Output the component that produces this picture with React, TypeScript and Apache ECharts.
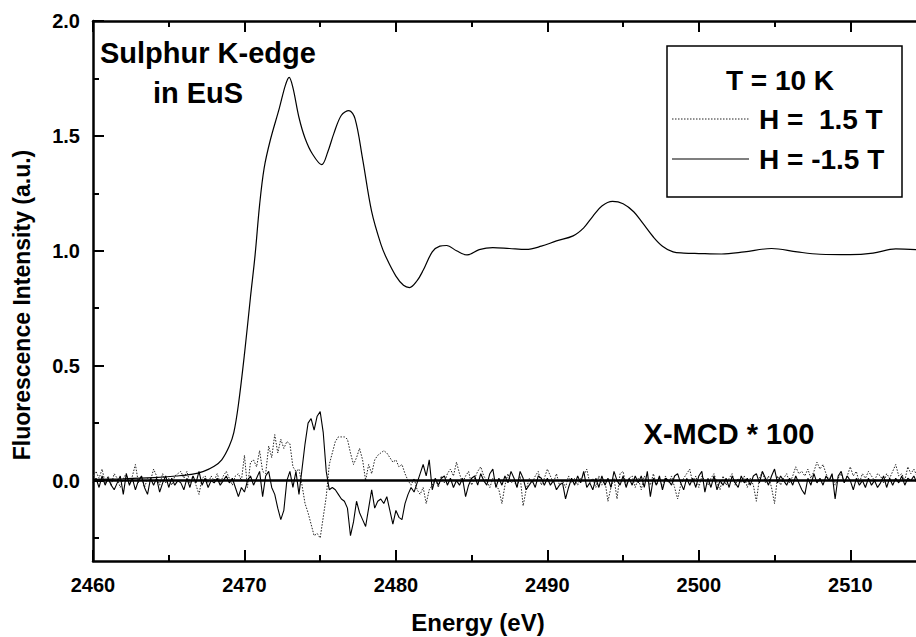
import React, { useEffect, useRef } from "react";
import * as echarts from "echarts";

// ---------- data ----------
const xTickLabels = [2460, 2470, 2480, 2490, 2500, 2510];
const yTickLabels = [0.0, 0.5, 1.0, 1.5, 2.0];
const yMinorTicks = [-0.25, 0.25, 0.75, 1.25, 1.75];

// Fluorescence spectrum (smooth curve)
const mainEnergy = [
  2460.0, 2462.0, 2464.0, 2465.5, 2466.5, 2467.3, 2468.0, 2468.5, 2469.0, 2469.3,
  2469.6, 2470.0, 2470.4, 2470.7, 2471.0, 2471.3, 2471.7, 2472.3, 2472.7, 2472.95,
  2473.2, 2473.6, 2474.0, 2474.5, 2475.1, 2475.5, 2475.9, 2476.4, 2476.9, 2477.3,
  2477.8, 2478.4, 2479.0, 2479.4, 2480.0, 2480.5, 2480.9, 2481.4, 2481.8, 2482.4,
  2482.9, 2483.35, 2484.0, 2484.7, 2485.5, 2486.4, 2487.5, 2488.6, 2489.6, 2490.6,
  2491.7, 2492.4, 2493.0, 2493.6, 2494.3, 2495.0, 2495.7, 2496.3, 2497.0, 2497.6,
  2498.3, 2499.0, 2500.0, 2501.5, 2503.0, 2504.8, 2506.5, 2508.0, 2510.0, 2511.5,
  2513.0, 2514.5,
];
const mainIntensity = [
  0.005, 0.008, 0.013, 0.02, 0.027, 0.04, 0.062, 0.09, 0.15, 0.21,
  0.33, 0.55, 0.8, 0.98, 1.2, 1.36, 1.48, 1.62, 1.72, 1.755,
  1.71, 1.58, 1.49, 1.42, 1.375, 1.43, 1.51, 1.59, 1.61, 1.575,
  1.4, 1.17, 1.03, 0.965, 0.89, 0.85, 0.84, 0.87, 0.915, 0.995,
  1.02, 1.023, 1.0, 0.982, 1.005, 1.014, 1.01, 1.006, 1.02, 1.043,
  1.065, 1.1, 1.15, 1.195, 1.215, 1.205, 1.17, 1.12, 1.06, 1.02,
  0.995, 0.99, 0.988, 0.986, 0.995, 1.01, 0.995, 0.985, 0.983, 0.99,
  1.008, 1.005,
];

// X-MCD * 100, sampled every 0.2 eV from 2460.0 eV
const mcdStart = 2460.0;
const mcdStep = 0.2;
const mcdPlus = [
  .02, .04, .01, .05, -.01, .02, -.02, .03, .01, -.03,
  .01, .03, -.02, .02, .07, -.01, .02, -.03, .01, .00,
  .05, .02, -.02, .03, -.01, .01, -.02, .02, .03, .04,
  .01, .04, -.01, .02, -.02, -.06, .01, .02, -.01, .02,
  .00, .03, -.01, .02, .04, .01, -.02, .02, .03, .00,
  .11, -.03, .08, .09, .06, .13, .04, .03, .15, .10,
  .20, .12, .18, .14, .17, .16, .06, .04, .05, -.02,
  -.10, -.14, -.19, -.24, -.23, -.25, -.16, -.07, .07, .12,
  .17, .19, .19, .19, .18, .12, .07, .10, .14, .09,
  .00, .07, .03, .09, .11, .12, .13, .12, .10, .08,
  .09, .06, .07, .03, .00, -.02, .01, -.04, -.06, -.03,
  -.10, -.04, -.02, .01, -.03, .02, -.01, .03, .05, .02,
  .08, .03, -.01, .02, .04, -.02, .01, .04, .06, .02,
  .00, -.03, .01, -.02, -.04, -.10, -.02, .03, -.01, .00,
  -.03, .02, -.11, -.04, .01, -.01, .02, .04, -.02, .01,
  .05, .02, -.01, .03, -.02, .00, -.03, .02, -.01, .01,
  -.02, .01, .02, .05, -.01, .01, -.03, .02, -.02, .00,
  -.09, -.03, .01, -.08, .03, .04, -.02, .01, .02, -.03,
  .01, -.04, .02, .00, -.02, .03, -.02, .01, -.03, .02,
  -.01, .02, -.03, -.08, -.02, .01, .03, .05, -.01, .02,
  -.03, .02, .00, -.02, .01, .03, -.01, -.04, .02, -.02,
  .01, .03, -.02, .01, -.01, .02, -.03, .01, -.02, -.09,
  .01, .04, -.01, .02, -.03, -.10, .02, -.02, .01, .03,
  -.01, .02, .06, .03, .04, .02, .05, .01, .04, .08,
  .05, .07, .03, .00, .02, -.02, .01, .03, -.01, .02,
  .06, .02, .04, -.01, .03, .01, .04, .02, .00, .03,
  .02, -.01, .03, .01, .04, .07, .02, .03, .00, .06,
  .03, .05, .02,
];
const mcdMinus = [
  -.01, .01, -.03, .02, -.02, .01, -.02, -.04, -.01, .02,
  -.06, .03, -.02, .01, -.04, .00, .02, -.03, -.06, .01,
  -.02, .01, -.05, -.01, .02, -.03, .01, -.02, .00, -.01,
  -.04, .01, -.03, .02, -.01, .04, -.02, .01, -.03, .00,
  -.01, .01, -.02, .00, .02, -.01, .01, -.03, -.07, -.03,
  -.05, .00, .02, -.02, .01, .04, -.07, .02, .04, -.03,
  -.06, -.12, -.17, -.13, .00, .04, -.03, .04, -.06, .05,
  .16, .25, .27, .22, .28, .30, .21, .04, -.04, -.03,
  -.04, -.06, -.08, -.09, -.12, -.24, -.18, -.09, -.14, -.17,
  -.20, -.12, -.04, -.12, -.09, -.08, -.10, -.07, -.13, -.19,
  -.13, -.16, -.17, -.10, -.06, -.03, -.05, -.01, .03, .07,
  .02, .09, -.04, .01, -.02, .01, .02, -.02, .01, -.03,
  .00, -.02, .01, -.07, -.02, .01, .02, -.02, .03, .00,
  -.02, .03, .05, -.03, .01, -.02, .02, -.01, .04, .01,
  -.03, .04, .01, -.04, -.02, .00, -.03, .02, .01, -.02,
  .01, -.02, .00, -.04, -.02, -.01, -.08, -.03, .01, -.02,
  .02, -.01, .04, -.03, -.01, -.04, .01, -.03, .02, -.02,
  .01, -.03, .04, .00, -.02, .02, -.03, .01, -.02, .02,
  -.01, .02, -.03, .04, -.07, .01, -.02, .02, -.04, .01,
  .00, -.02, .02, .03, -.01, -.04, .01, -.02, .01, -.03,
  .02, .04, -.05, .01, -.03, .02, -.04, .00, -.02, .01,
  -.03, .02, -.01, -.03, .02, -.01, .01, -.02, .02, .03,
  -.01, .04, .01, -.02, .02, .05, -.01, .02, .00, -.02,
  .01, -.02, .02, -.01, -.04, -.06, .01, -.02, .03, -.01,
  .01, -.02, .02, .00, .03, -.08, .02, .04, -.01, .02,
  .00, -.04, .01, -.02, .00, -.03, .01, -.02, .00, -.03,
  -.01, .02, -.03, .01, -.02, .01, -.01, .02, -.02, .01,
  .00, .02, -.01,
];

const FONT = "'Liberation Sans', Arial, Helvetica, sans-serif";

export default function App() {
  const ref = useRef<HTMLDivElement>(null);

  useEffect(() => {
    if (!ref.current) return;
    const chart = echarts.init(ref.current, undefined, { renderer: "svg" });

    const mainData = mainEnergy.map((e, i) => [e, mainIntensity[i]]);
    const plusData = mcdPlus.map((v, i) => [+(mcdStart + i * mcdStep).toFixed(2), v]);
    const minusData = mcdMinus.map((v, i) => [+(mcdStart + i * mcdStep).toFixed(2), v]);

    const axisLine = { show: true, onZero: false, lineStyle: { color: "#000", width: 2.5 } };

    chart.setOption({
      animation: false,
      backgroundColor: "#fff",
      grid: {
        left: 93,
        top: 21,
        width: 833,
        height: 540,
        containLabel: false,
        outerBoundsMode: "none",
      },
      xAxis: [
        {
          type: "value",
          min: 2460,
          max: 2515,
          interval: 10,
          position: "bottom",
          axisLine,
          axisTick: { show: true, inside: true, length: 11, lineStyle: { color: "#000", width: 2 } },
          minorTick: { show: true, splitNumber: 2, length: 6, lineStyle: { color: "#000", width: 2 } },
          splitLine: { show: false },
          axisLabel: {
            color: "#000",
            fontFamily: FONT,
            fontWeight: "bold",
            fontSize: 20,
            margin: 14,
            formatter: (v: number) => (xTickLabels.includes(v) ? String(v) : ""),
          },
        },
        {
          type: "value",
          min: 2460,
          max: 2515,
          interval: 10,
          position: "top",
          axisLine,
          axisTick: { show: true, inside: true, length: 11, lineStyle: { color: "#000", width: 2 } },
          minorTick: { show: true, splitNumber: 2, length: 6, lineStyle: { color: "#000", width: 2 } },
          splitLine: { show: false },
          axisLabel: { show: false },
        },
      ],
      yAxis: [
        {
          type: "value",
          min: -0.35,
          max: 2.0,
          position: "left",
          axisLine,
          axisTick: {
            show: true,
            inside: true,
            length: 11,
            customValues: yTickLabels,
            lineStyle: { color: "#000", width: 2 },
          },
          splitLine: { show: false },
          axisLabel: {
            color: "#000",
            fontFamily: FONT,
            fontWeight: "bold",
            fontSize: 20,
            margin: 13,
            customValues: yTickLabels,
            formatter: (v: number) => v.toFixed(1),
          },
        },
        {
          type: "value",
          min: -0.35,
          max: 2.0,
          position: "left",
          offset: 0,
          axisLine: { show: false, onZero: false },
          axisTick: {
            show: true,
            inside: true,
            length: 6,
            customValues: yMinorTicks,
            lineStyle: { color: "#000", width: 2 },
          },
          splitLine: { show: false },
          axisLabel: { show: false },
        },
      ],
      series: [
        {
          name: "spectrum",
          type: "line",
          data: mainData,
          smooth: 0.35,
          symbol: "none",
          lineStyle: { color: "#000", width: 1.2 },
          z: 3,
        },
        {
          name: "H =  1.5 T",
          type: "line",
          data: plusData,
          symbol: "none",
          lineStyle: { color: "#222", width: 1, type: [1.5, 1.5] },
          z: 2,
        },
        {
          name: "H = -1.5 T",
          type: "line",
          data: minusData,
          symbol: "none",
          lineStyle: { color: "#000", width: 1.1 },
          z: 2,
        },
        {
          name: "zero",
          type: "line",
          data: [
            [2460, 0],
            [2515, 0],
          ],
          symbol: "none",
          lineStyle: { color: "#000", width: 2.5 },
          z: 4,
        },
      ],
      graphic: [
        {
          type: "text",
          x: 478,
          y: 622,
          style: {
            text: "Energy (eV)",
            fill: "#000",
            font: `bold 24px ${FONT}`,
            textAlign: "center",
            textVerticalAlign: "middle",
          },
        },
        {
          type: "text",
          x: 22,
          y: 305,
          rotation: Math.PI / 2,
          style: {
            text: "Fluorescence Intensity (a.u.)",
            fill: "#000",
            font: `bold 23px ${FONT}`,
            textAlign: "center",
            textVerticalAlign: "middle",
          },
        },
        {
          type: "text",
          left: 100,
          top: 38,
          style: { text: "Sulphur K-edge", fill: "#000", font: `bold 29px ${FONT}` },
        },
        {
          type: "text",
          x: 198,
          y: 93,
          style: {
            text: "in EuS",
            fill: "#000",
            font: `bold 29px ${FONT}`,
            textAlign: "center",
            textVerticalAlign: "middle",
          },
        },
        {
          type: "text",
          x: 729,
          y: 434,
          style: {
            text: "X-MCD * 100",
            fill: "#000",
            font: `bold 29px ${FONT}`,
            textAlign: "center",
            textVerticalAlign: "middle",
          },
        },
        {
          type: "rect",
          shape: { x: 667, y: 46, width: 235, height: 151 },
          style: { fill: "#fff", stroke: "#000", lineWidth: 1.5 },
          z: 10,
        },
        {
          type: "text",
          x: 780,
          y: 80,
          z: 11,
          style: {
            text: "T = 10 K",
            fill: "#000",
            font: `bold 28px ${FONT}`,
            textAlign: "center",
            textVerticalAlign: "middle",
          },
        },
        {
          type: "line",
          z: 11,
          shape: { x1: 672, y1: 119, x2: 749, y2: 119 },
          style: { stroke: "#222", lineWidth: 1, lineDash: [1.5, 1.5] },
        },
        {
          type: "text",
          x: 759,
          y: 119,
          z: 11,
          style: {
            text: "H =  1.5 T",
            fill: "#000",
            font: `bold 28px ${FONT}`,
            textAlign: "left",
            textVerticalAlign: "middle",
          },
        },
        {
          type: "line",
          z: 11,
          shape: { x1: 672, y1: 159, x2: 749, y2: 159 },
          style: { stroke: "#000", lineWidth: 1.1 },
        },
        {
          type: "text",
          x: 759,
          y: 159,
          z: 11,
          style: {
            text: "H = -1.5 T",
            fill: "#000",
            font: `bold 28px ${FONT}`,
            textAlign: "left",
            textVerticalAlign: "middle",
          },
        },
      ],
    });

    return () => chart.dispose();
  }, []);

  return (
    <div
      ref={ref}
      style={{ position: "fixed", left: 0, top: 0, width: 916, height: 637, background: "#fff" }}
    />
  );
}
